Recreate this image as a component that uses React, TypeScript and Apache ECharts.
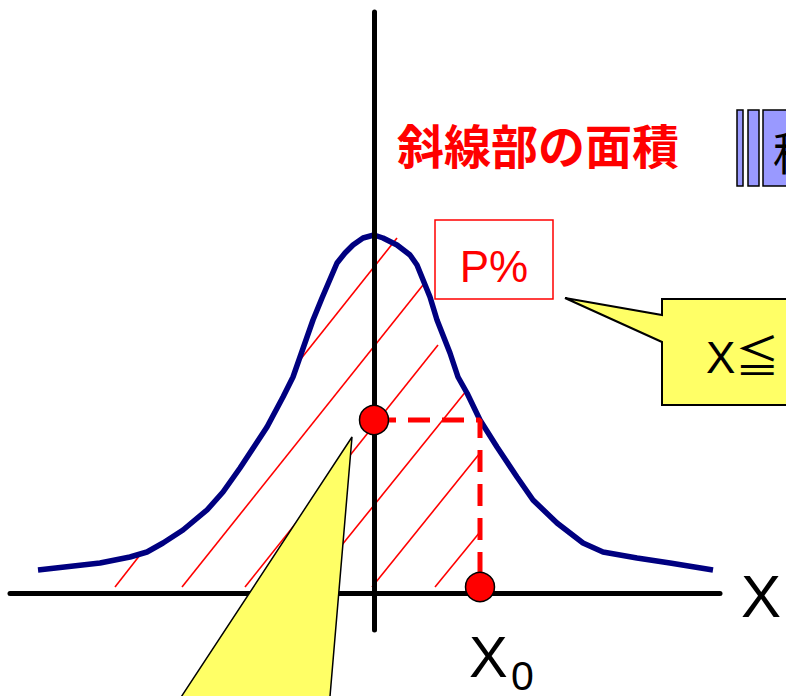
import React, { useEffect, useRef } from "react";
import * as echarts from "echarts";

// Diagram coordinates: origin at the crossing of the two axes (1 unit = 1 px)
const xRange: [number, number] = [-364, 346];
const yRange: [number, number] = [-37, 581];

// Normal-distribution-like curve
const curvePoints: [number, number][] = [
  [-336, 23], [-274, 30], [-244, 36], [-227, 41], [-211, 50], [-191, 63],
  [-167, 83], [-151, 101], [-134, 125], [-107, 166], [-91, 196], [-81, 216],
  [-74, 236], [-61, 273], [-52, 295], [-37, 330], [-29, 340], [-21, 348],
  [-11, 355], [0, 358], [9, 355], [23, 348], [36, 338], [43, 328], [56, 296],
  [63, 273], [76, 240], [84, 216], [93, 200], [106, 173], [123, 146],
  [143, 116], [159, 93], [183, 70], [209, 50], [229, 41], [263, 35],
  [296, 30], [339, 23],
];

// Hatching segments [x1, y1, x2, y2]
const hatchLines: [number, number, number, number][] = [
  [-259, 6, -234, 38],
  [-192, 6, 49, 308],
  [-129, 6, 64, 248],
  [-74, 233, 23, 355],
  [-66, 6, 93, 203],
  [-2, 6, 106, 140],
  [61, 6, 106, 61],
];

// Dashed guide from f(x0) on the vertical axis to x0 on the horizontal axis
const guidePath: [number, number][] = [[0, 173], [106, 173], [106, 6]];
const markedPoints: [number, number][] = [[0, 173], [106, 6]];

const titleText = "斜線部の面積";
const probLabel = "P%";
const axisName = "X";
const x0Main = "X";
const x0Sub = "0";
const conditionLabel = "X≦";
const sideLabel = "積";

const LATIN = '"Liberation Sans", Arial, "Noto Sans CJK JP", sans-serif';
const CJK = '"Noto Sans CJK JP", "Noto Sans CJK SC", sans-serif';

export default function App() {
  const ref = useRef<HTMLDivElement>(null);

  useEffect(() => {
    if (!ref.current) return;
    const chart = echarts.init(ref.current, undefined, { renderer: "svg" });
    const yellow = "#FFFF66";
    const purple = "#9999FF";
    const option: any = {
      animation: false,
      backgroundColor: "#ffffff",
      grid: { left: 10, right: 66, top: 12, bottom: 66 },
      xAxis: {
        type: "value",
        min: xRange[0],
        max: xRange[1],
        z: 3,
        axisLine: { show: true, onZero: true, lineStyle: { color: "#000", width: 5 } },
        axisTick: { show: false },
        axisLabel: { show: false },
        splitLine: { show: false },
      },
      yAxis: {
        type: "value",
        min: yRange[0],
        max: yRange[1],
        z: 3,
        axisLine: { show: true, onZero: true, lineStyle: { color: "#000", width: 5 } },
        axisTick: { show: false },
        axisLabel: { show: false },
        splitLine: { show: false },
      },
      series: [
        {
          type: "lines",
          coordinateSystem: "cartesian2d",
          z: 1,
          silent: true,
          data: hatchLines.map(([a, b, c, d]) => ({ coords: [[a, b], [c, d]] })),
          lineStyle: { color: "#ff0000", width: 1.6, opacity: 1 },
        },
        {
          type: "line",
          z: 2,
          silent: true,
          data: curvePoints,
          symbol: "none",
          lineStyle: { color: "#000080", width: 5.5 },
        },
        {
          type: "line",
          z: 4,
          silent: true,
          data: guidePath,
          symbol: "none",
          lineStyle: { color: "#ff0000", width: 5, type: [22, 12] },
        },
        {
          type: "scatter",
          z: 5,
          silent: true,
          data: markedPoints,
          symbol: "circle",
          symbolSize: 29,
          itemStyle: { color: "#ff0000", borderColor: "#000", borderWidth: 1.5, opacity: 1 },
        },
      ],
      graphic: [
        {
          type: "polygon",
          z: 20,
          shape: {
            points: [[662, 299], [800, 299], [800, 405], [662, 405], [662, 342], [565, 298], [662, 315]],
          },
          style: { fill: yellow, stroke: "#000", lineWidth: 2 },
        },
        {
          type: "polygon",
          z: 20,
          shape: { points: [[352, 437], [328, 720], [166, 720]] },
          style: { fill: yellow, stroke: "#000", lineWidth: 1.5 },
        },
        {
          type: "rect",
          z: 20,
          shape: { x: 435, y: 220, width: 118, height: 79 },
          style: { fill: "#ffffff", stroke: "#ff0000", lineWidth: 1.5 },
        },
        {
          type: "text",
          z: 21,
          x: 494,
          y: 266,
          style: { text: probLabel, fill: "#ff0000", fontSize: 44, fontFamily: LATIN, align: "center", verticalAlign: "middle" },
        },
        {
          type: "text",
          z: 21,
          x: 538,
          y: 143,
          style: { text: titleText, fill: "#ff0000", fontSize: 47, fontWeight: "bold", fontFamily: CJK, align: "center", verticalAlign: "middle" },
        },
        { type: "rect", z: 20, shape: { x: 737, y: 110, width: 6, height: 76 }, style: { fill: purple, stroke: "#000", lineWidth: 1.5 } },
        { type: "rect", z: 20, shape: { x: 748, y: 110, width: 11, height: 76 }, style: { fill: purple, stroke: "#000", lineWidth: 1.5 } },
        { type: "rect", z: 20, shape: { x: 763, y: 110, width: 40, height: 76 }, style: { fill: purple, stroke: "#000", lineWidth: 1.5 } },
        {
          type: "text",
          z: 21,
          x: 773,
          y: 150,
          style: { text: sideLabel, fill: "#000", fontSize: 46, fontFamily: CJK, align: "left", verticalAlign: "middle" },
        },
        {
          type: "text",
          z: 21,
          x: 706,
          y: 357,
          style: { text: conditionLabel, fill: "#000", fontSize: 44, fontFamily: LATIN, align: "left", verticalAlign: "middle" },
        },
        {
          type: "text",
          z: 21,
          x: 741,
          y: 596,
          style: { text: axisName, fill: "#000", fontSize: 60, fontFamily: LATIN, align: "left", verticalAlign: "middle" },
        },
        {
          type: "text",
          z: 21,
          x: 469,
          y: 656,
          style: { text: x0Main, fill: "#000", fontSize: 58, fontFamily: LATIN, align: "left", verticalAlign: "middle" },
        },
        {
          type: "text",
          z: 21,
          x: 511,
          y: 676,
          style: { text: x0Sub, fill: "#000", fontSize: 41, fontFamily: LATIN, align: "left", verticalAlign: "middle" },
        },
      ],
    };
    chart.setOption(option);
    return () => chart.dispose();
  }, []);

  return (
    <div
      ref={ref}
      style={{ position: "absolute", left: 0, top: 0, width: 786, height: 696, background: "#fff" }}
    />
  );
}
